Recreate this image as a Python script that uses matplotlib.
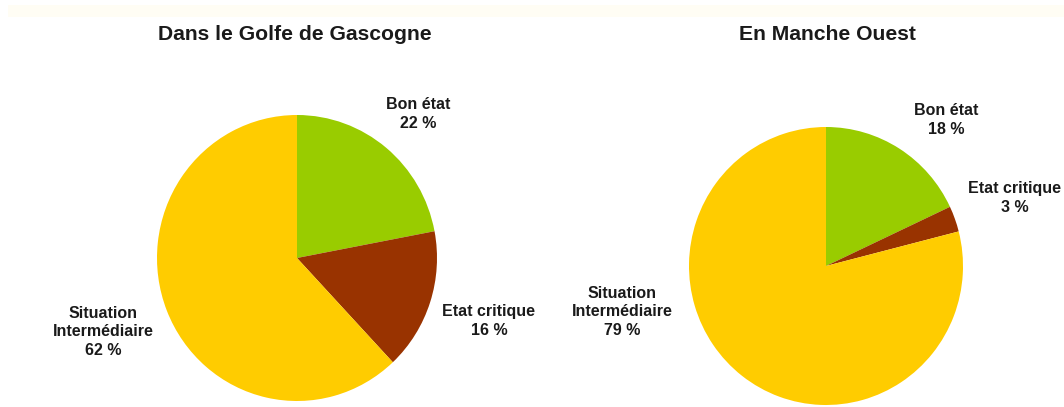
import matplotlib.pyplot as plt
from matplotlib.patches import Rectangle

# Data
categories = ['Bon état', 'Etat critique', 'Situation\nIntermédiaire']
golfe_values = [22, 16, 62]
manche_values = [18, 3, 79]
titles = ['Dans le Golfe de Gascogne', 'En Manche Ouest']
colors = ['#99CC00', '#993300', '#FFCC00']

W, H = 1064, 407
plt.rcParams['font.family'] = ['Liberation Sans', 'DejaVu Sans']

fig = plt.figure(figsize=(W / 100, H / 100), dpi=100)
fig.patch.set_facecolor('white')

# faint cream band along the top (scan artefact in the original)
fig.patches.append(Rectangle((8 / W, 1 - 17 / H), 1, 12 / H, transform=fig.transFigure,
                             facecolor='#FFFDF4', edgecolor='none', zorder=0))


def px_axes(cx, cy, rx, ry):
    # axes box in pixel coordinates (top-left origin) around a pie
    return fig.add_axes([(cx - rx) / W, 1 - (cy + ry) / H, 2 * rx / W, 2 * ry / H])


def px_text(x, y, s, size=11.5):
    fig.text(x / W, 1 - y / H, s, ha='center', va='center', fontsize=size,
             fontweight='bold', color='#1a1a1a', linespacing=1.33)


# pies (the original is slightly stretched vertically)
pies = [(golfe_values, 297, 258, 140, 143), (manche_values, 826, 266, 137, 139)]
for values, cx, cy, rx, ry in pies:
    ax = px_axes(cx, cy, rx, ry)
    ax.pie(values, colors=colors, startangle=90, counterclock=False,
           radius=1, wedgeprops=dict(linewidth=0))
    ax.set_xlim(-1, 1)
    ax.set_ylim(-1, 1)
    ax.set_aspect('auto')
    ax.axis('off')

# titles
px_text(295, 34, titles[0], size=15.2)
px_text(827, 34, titles[1], size=15.2)

# labels - left pie
px_text(418, 114, f"{categories[0]}\n{golfe_values[0]} %")
px_text(489, 321, f"{categories[1]}\n{golfe_values[1]} %")
px_text(103, 332, f"{categories[2]}\n{golfe_values[2]} %")

# labels - right pie
px_text(946, 120, f"{categories[0]}\n{manche_values[0]} %")
px_text(1015, 198, f"{categories[1]}\n{manche_values[1]} %")
px_text(622, 312, f"{categories[2]}\n{manche_values[2]} %")

fig.savefig('out.png', dpi=100, facecolor='white')
